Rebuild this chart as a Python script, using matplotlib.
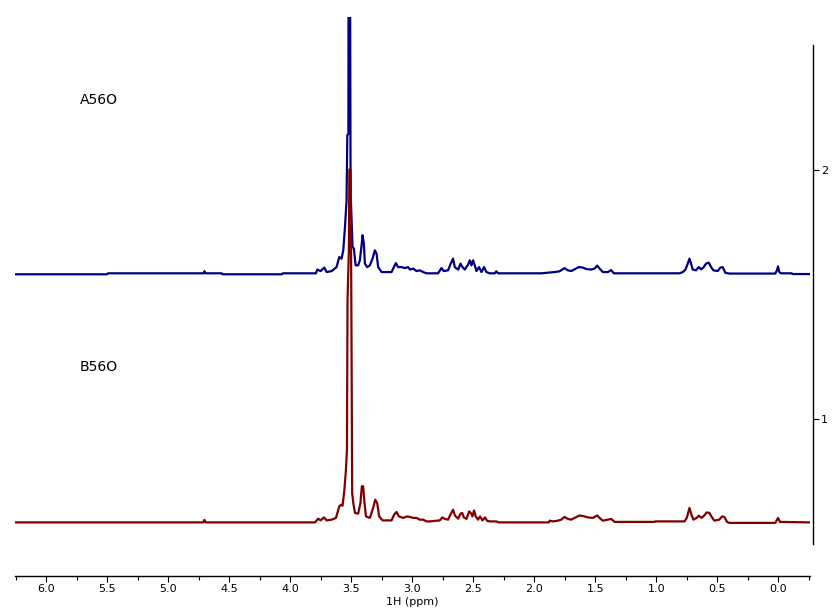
import numpy as np
import matplotlib
matplotlib.use("Agg")
import matplotlib.pyplot as plt
from matplotlib.ticker import MultipleLocator

# 1H NMR spectra, stacked
# chemical shift (ppm) and intensity above each trace's own baseline

a_ppm = [6.257, 5.503, 5.495, 4.712, 4.704, 4.694, 4.562, 4.555, 4.069, 4.062,
         3.790, 3.779, 3.752, 3.722, 3.702, 3.661, 3.621, 3.599, 3.580, 3.566,
         3.552, 3.539, 3.533, 3.524, 3.521, 3.514, 3.506, 3.490, 3.479, 3.465,
         3.444, 3.430, 3.416, 3.408, 3.397, 3.389, 3.370, 3.348, 3.326, 3.307,
         3.293, 3.280, 3.252, 3.170, 3.151, 3.135, 3.116, 3.088, 3.061, 3.034,
         3.020, 2.993, 2.966, 2.939, 2.911, 2.884, 2.789, 2.761, 2.742, 2.707,
         2.685, 2.666, 2.652, 2.624, 2.605, 2.589, 2.570, 2.543, 2.529, 2.515,
         2.502, 2.488, 2.474, 2.453, 2.433, 2.412, 2.393, 2.366, 2.325, 2.311,
         2.297, 1.942, 1.834, 1.793, 1.752, 1.725, 1.697, 1.670, 1.635, 1.602,
         1.574, 1.533, 1.506, 1.484, 1.465, 1.438, 1.397, 1.370, 1.348, 0.810,
         0.782, 0.761, 0.742, 0.728, 0.715, 0.701, 0.674, 0.652, 0.633, 0.614,
         0.592, 0.570, 0.551, 0.532, 0.497, 0.475, 0.456, 0.434, 0.401, 0.025,
         0.011, 0.002, -0.008, -0.022, -0.112, -0.117, -0.260]
a_int = [-0.004, -0.004, 0.000, 0.000, 0.008, 0.000, 0.000, -0.004, -0.004, 0.000,
         0.000, 0.015, 0.009, 0.023, 0.005, 0.009, 0.025, 0.065, 0.059, 0.092,
         0.186, 0.293, 0.554, 0.560, 2.000, 2.000, 0.327, 0.106, 0.099, 0.032,
         0.032, 0.052, 0.112, 0.153, 0.119, 0.039, 0.025, 0.032, 0.059, 0.092,
         0.079, 0.025, 0.005, 0.005, 0.025, 0.041, 0.025, 0.025, 0.021, 0.025,
         0.015, 0.019, 0.009, 0.012, 0.005, 0.000, 0.000, 0.021, 0.009, 0.012,
         0.039, 0.059, 0.025, 0.015, 0.039, 0.025, 0.015, 0.035, 0.052, 0.032,
         0.052, 0.032, 0.009, 0.025, 0.005, 0.025, 0.005, 0.000, 0.000, 0.008,
         0.000, 0.000, 0.005, 0.008, 0.021, 0.012, 0.009, 0.016, 0.025, 0.023,
         0.017, 0.015, 0.019, 0.031, 0.019, 0.005, 0.005, 0.013, 0.000, 0.000,
         0.005, 0.015, 0.039, 0.059, 0.039, 0.015, 0.012, 0.025, 0.016, 0.023,
         0.039, 0.043, 0.025, 0.012, 0.009, 0.023, 0.025, 0.002, -0.001, -0.001,
         0.012, 0.028, 0.005, 0.000, 0.000, -0.003, -0.003]
a_base = 1.585

b_ppm = [6.257, 4.715, 4.704, 4.694, 3.798, 3.771, 3.752, 3.725, 3.702, 3.661,
         3.626, 3.599, 3.585, 3.572, 3.558, 3.544, 3.536, 3.531, 3.520, 3.516,
         3.506, 3.500, 3.493, 3.484, 3.470, 3.444, 3.425, 3.414, 3.403, 3.392,
         3.380, 3.348, 3.321, 3.304, 3.288, 3.272, 3.244, 3.170, 3.149, 3.129,
         3.110, 3.075, 3.042, 3.020, 2.993, 2.966, 2.939, 2.911, 2.884, 2.857,
         2.775, 2.753, 2.734, 2.707, 2.688, 2.666, 2.650, 2.624, 2.605, 2.591,
         2.578, 2.556, 2.534, 2.521, 2.507, 2.494, 2.480, 2.461, 2.445, 2.425,
         2.404, 2.388, 2.366, 2.311, 2.292, 1.880, 1.874, 1.847, 1.806, 1.779,
         1.752, 1.725, 1.697, 1.670, 1.629, 1.588, 1.561, 1.520, 1.484, 1.465,
         1.438, 1.397, 1.370, 1.342, 1.015, 1.009, 0.769, 0.750, 0.728, 0.712,
         0.696, 0.669, 0.652, 0.628, 0.609, 0.587, 0.565, 0.546, 0.524, 0.483,
         0.461, 0.442, 0.420, 0.401, 0.025, 0.002, -0.014, -0.260]
b_int = [0.000, 0.000, 0.010, 0.000, 0.000, 0.015, 0.008, 0.020, 0.008, 0.011,
         0.018, 0.064, 0.071, 0.067, 0.124, 0.212, 0.292, 0.894, 1.094, 1.417,
         1.417, 0.900, 0.118, 0.078, 0.038, 0.035, 0.078, 0.145, 0.145, 0.078,
         0.024, 0.018, 0.058, 0.091, 0.078, 0.024, 0.008, 0.008, 0.031, 0.042,
         0.024, 0.018, 0.024, 0.022, 0.018, 0.018, 0.011, 0.011, 0.004, 0.004,
         0.008, 0.020, 0.014, 0.011, 0.031, 0.051, 0.027, 0.015, 0.035, 0.038,
         0.020, 0.014, 0.044, 0.038, 0.024, 0.048, 0.024, 0.011, 0.024, 0.008,
         0.020, 0.007, 0.004, 0.004, 0.000, 0.000, 0.007, 0.004, 0.007, 0.011,
         0.022, 0.014, 0.011, 0.018, 0.028, 0.024, 0.020, 0.018, 0.028, 0.018,
         0.007, 0.011, 0.014, 0.002, 0.002, 0.004, 0.004, 0.018, 0.058, 0.031,
         0.011, 0.018, 0.027, 0.018, 0.027, 0.040, 0.038, 0.022, 0.007, 0.011,
         0.024, 0.022, 0.002, -0.002, -0.002, 0.018, 0.002, 0.000]
b_base = 0.585

labels = ["A56O", "B56O"]
x_ticks = [6.0, 5.5, 5.0, 4.5, 4.0, 3.5, 3.0, 2.5, 2.0, 1.5, 1.0, 0.5, 0.0]
y_ticks = [1, 2]

fig = plt.figure(figsize=(8.36, 6.11), dpi=100)
ax = fig.add_axes([15 / 836, 35.3 / 611, 795 / 836, 558.7 / 611])

ax.plot(a_ppm, np.array(a_int) + a_base, color="#000080", lw=1.6, zorder=2)
ax.plot(b_ppm, np.array(b_int) + b_base, color="#800000", lw=1.6, zorder=3)

ax.text(5.724, 2.281, labels[0], fontsize=10, ha="left", va="center")
ax.text(5.724, 1.209, labels[1], fontsize=10, ha="left", va="center")

ax.set_xlim(6.257, -0.260)
ax.set_ylim(0.371, 2.614)

ax.set_xticks(x_ticks)
ax.set_xticklabels([f"{t:.1f}" for t in x_ticks])
ax.xaxis.set_minor_locator(MultipleLocator(0.25))
ax.tick_params(axis="x", which="major", direction="out", length=4, width=0.8,
               labelsize=8, pad=2)
ax.tick_params(axis="x", which="minor", direction="out", length=3, width=0.8)
ax.set_xlabel("1H (ppm)", fontsize=8, labelpad=2)

ax.yaxis.tick_right()
ax.set_yticks(y_ticks)
ax.tick_params(axis="y", direction="out", length=4, width=0.8, labelsize=8, pad=2)

for s in ["left", "top"]:
    ax.spines[s].set_visible(False)
ax.spines["right"].set_position(("outward", 2))
ax.spines["right"].set_bounds(0.5, 2.5)
ax.spines["right"].set_linewidth(1)
ax.spines["bottom"].set_linewidth(1)

fig.savefig("out.png", dpi=100)
